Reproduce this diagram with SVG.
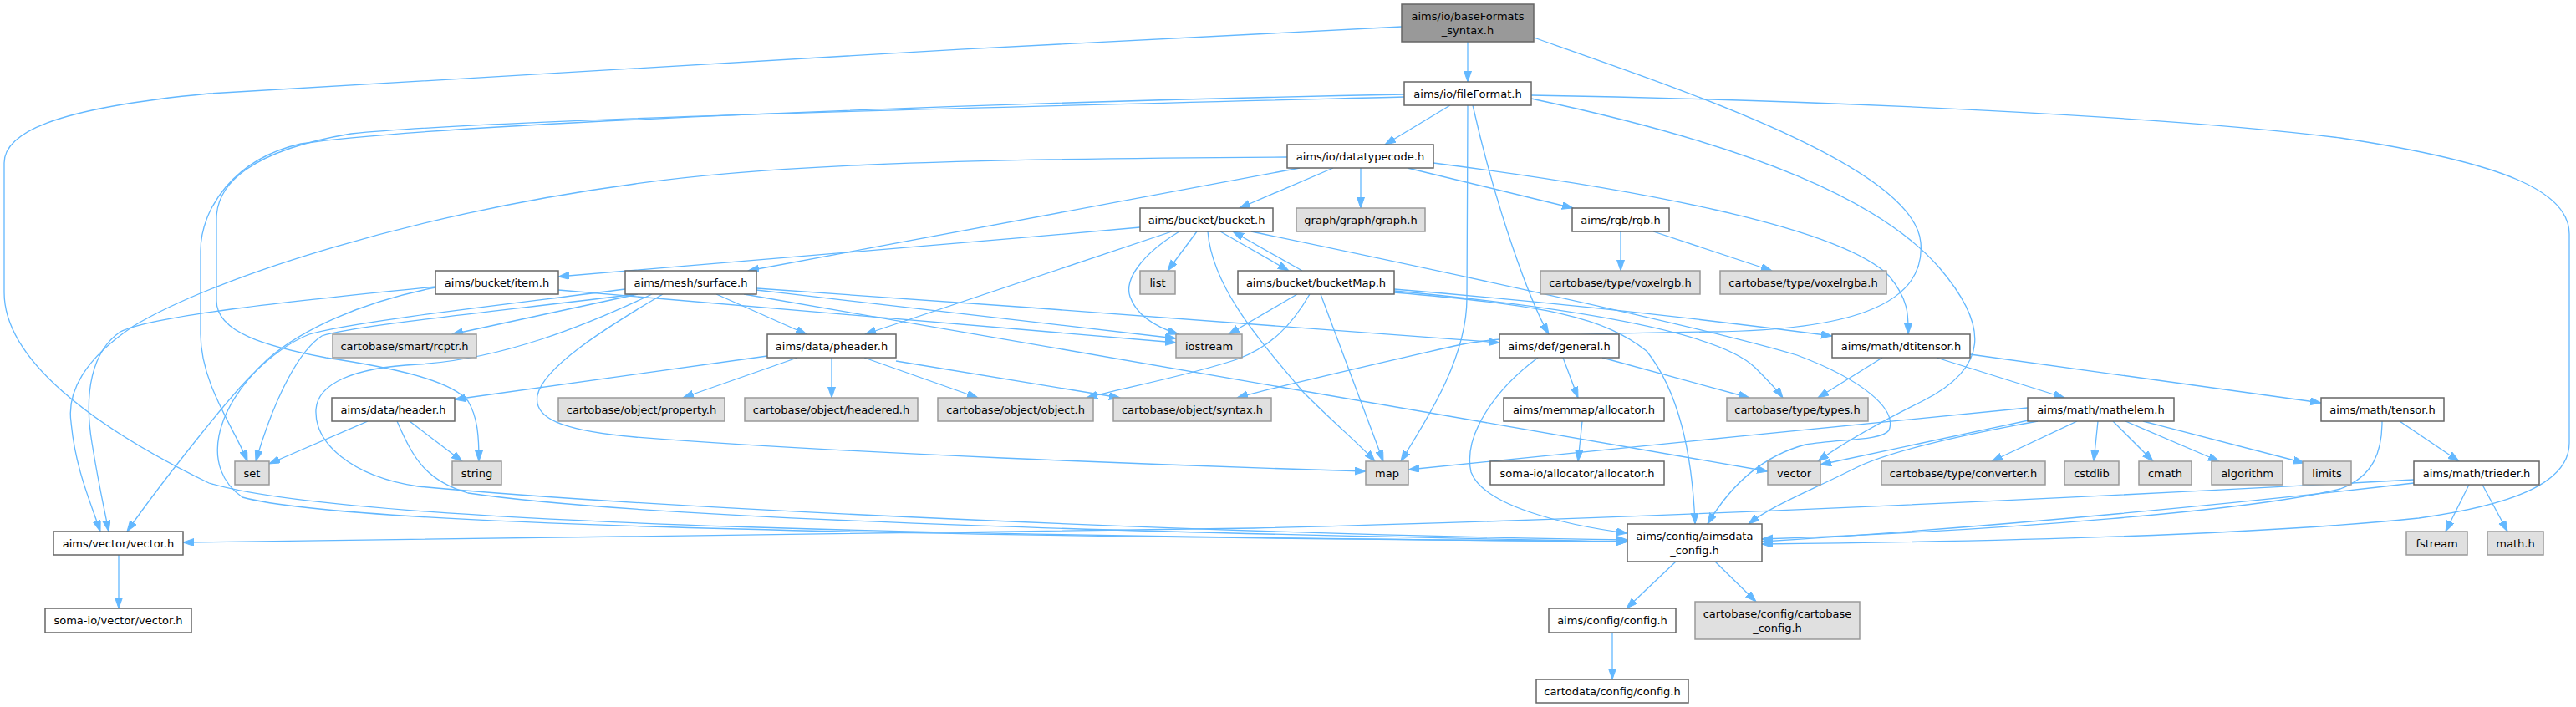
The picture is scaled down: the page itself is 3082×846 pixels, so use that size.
<svg xmlns="http://www.w3.org/2000/svg" width="3082" height="846" viewBox="0 0 3082 846">
<style>
.n rect{fill:#ffffff;stroke:#666666;stroke-width:1.5}
.g rect{fill:#e0e0e0;stroke:#999999;stroke-width:1.5}
.r rect{fill:#999999;stroke:#666666;stroke-width:1.5}
text{font-family:"DejaVu Sans","Liberation Sans",sans-serif;font-size:13px;fill:#000000;text-anchor:middle}
.e path{fill:none;stroke:#63b8ff;stroke-width:1.3;marker-end:url(#a)}
</style>
<defs>
<marker id="a" markerWidth="14" markerHeight="10" refX="13" refY="4.5" orient="auto" markerUnits="userSpaceOnUse"><path d="M0,0 L13,4.5 L0,9 z" fill="#63b8ff" stroke="#63b8ff" stroke-width="1"/></marker>
</defs>
<rect width="3082" height="846" fill="#ffffff"/>
<g id="edges" class="e">
<path d="M1756,50 L1756,98"/>
<path d="M1677,32 C1200,55 480,95 250,112 C60,130 5,160 5,195 L5,350 C5,430 110,510 250,578 C420,630 1200,642 1947,648"/>
<path d="M1835,45 C2020,110 2290,200 2298,290 C2305,370 2200,395 2050,397 C1900,399 1790,402 1740,414 C1640,437 1530,462 1480,476"/>
<path d="M1735,126 L1657,173"/>
<path d="M1680,113 C1200,122 520,148 360,172 C280,190 240,250 240,300 L240,400 C240,460 282,515 296,552"/>
<path d="M1680,116 C1200,128 600,142 420,160 C300,180 259,220 259,262 L259,360 C259,398 320,415 390,428 C470,440 540,455 560,480 C572,500 573,525 573,552"/>
<path d="M1756,126 C1756,200 1755,290 1755,357 C1755,430 1705,505 1676,552"/>
<path d="M1762,126 C1790,250 1830,360 1853,400"/>
<path d="M1832,114 C2200,120 2600,140 2800,165 C3000,195 3074,230 3074,280 L3074,530 C3074,580 3000,605 2894,620 C2700,640 2400,648 2108,651"/>
<path d="M1832,118 C2100,175 2250,240 2320,320 C2380,390 2380,440 2300,480 C2250,505 2205,530 2175,552"/>
<path d="M1540,188 C1100,190 900,200 760,220 C500,255 260,330 160,390 C100,430 80,470 85,505 C90,560 108,600 120,636"/>
<path d="M1555,201 L895,324"/>
<path d="M1595,201 L1483,249"/>
<path d="M1628,201 L1628,249"/>
<path d="M1684,201 L1882,249"/>
<path d="M1715,195 C1950,225 2200,270 2260,330 C2285,360 2283,380 2283,400"/>
<path d="M1364,272 C1100,296 800,319 668,331"/>
<path d="M1432,277 L1397,324"/>
<path d="M1411,277 C1365,305 1345,335 1352,355 C1360,378 1385,392 1410,400"/>
<path d="M1402,277 L1035,400"/>
<path d="M1445,277 C1450,340 1500,400 1560,470 C1600,510 1625,530 1645,552"/>
<path d="M1460,277 L1542,324"/>
<path d="M1558,324 L1475,277"/>
<path d="M1497,277 C1800,340 2050,395 2150,425 C2230,455 2270,490 2260,515 C2250,528 2200,525 2160,532 C2100,548 2065,590 2043,627"/>
<path d="M1552,352 L1470,400"/>
<path d="M1567,352 C1545,390 1520,415 1480,430 C1420,450 1340,465 1300,476"/>
<path d="M1580,352 L1655,552"/>
<path d="M1668,346 C1900,365 2100,390 2192,402"/>
<path d="M1668,348 C1900,370 2060,400 2100,440 C2115,455 2125,465 2133,476"/>
<path d="M1668,350 C1850,365 1920,380 1970,420 C2010,470 2025,550 2028,627"/>
<path d="M521,343 C350,360 180,378 144,397 C110,420 100,470 110,530 C118,580 125,610 130,636"/>
<path d="M521,344 C430,362 360,395 320,430 C255,490 240,560 290,595 C400,625 900,640 1947,648"/>
<path d="M668,347 C900,367 1200,392 1407,410"/>
<path d="M763,352 L541,400"/>
<path d="M748,346 C600,365 420,385 370,400 C320,420 280,470 240,520 C200,570 170,610 152,636"/>
<path d="M760,352 C600,372 420,390 385,402 C360,418 330,470 306,552"/>
<path d="M780,352 C700,390 600,430 500,436 C420,440 380,460 378,490 C376,530 420,570 500,582 C800,610 1500,640 1947,646"/>
<path d="M857,352 L965,400"/>
<path d="M905,347 C1100,370 1300,393 1407,405"/>
<path d="M905,345 C1200,365 1600,395 1794,410"/>
<path d="M890,352 L2115,564"/>
<path d="M793,352 C720,395 650,440 643,473 C638,500 670,515 760,523 C1000,542 1400,557 1634,564"/>
<path d="M918,426 L544,478"/>
<path d="M954,428 L817,476"/>
<path d="M995,428 L995,476"/>
<path d="M1034,428 L1170,476"/>
<path d="M1072,432 L1340,476"/>
<path d="M440,504 L322,555"/>
<path d="M490,504 L553,552"/>
<path d="M475,504 C495,550 510,575 560,590 C800,625 1500,640 1947,648"/>
<path d="M1917,428 L2093,476"/>
<path d="M1870,428 L1888,476"/>
<path d="M1840,428 C1790,465 1750,520 1760,565 C1775,605 1870,628 1947,638"/>
<path d="M1893,504 L1888,552"/>
<path d="M1939,277 L1939,324"/>
<path d="M1978,277 L2120,324"/>
<path d="M2252,428 L2175,476"/>
<path d="M2317,428 L2470,476"/>
<path d="M2357,424 L2777,482"/>
<path d="M2426,488 C2200,510 1900,540 1685,562"/>
<path d="M2427,503 L2178,556"/>
<path d="M2438,504 C2350,520 2260,540 2220,560 C2160,590 2120,605 2092,627"/>
<path d="M2485,504 L2383,552"/>
<path d="M2510,504 L2505,552"/>
<path d="M2528,504 L2576,552"/>
<path d="M2543,504 L2655,552"/>
<path d="M2564,504 L2757,554"/>
<path d="M2871,504 L2942,552"/>
<path d="M2850,504 C2850,540 2840,570 2800,585 C2700,610 2400,635 2108,645"/>
<path d="M2954,580 L2926,636"/>
<path d="M2970,580 L3000,636"/>
<path d="M2888,574 C2500,595 2000,620 1500,632 C1000,642 600,647 219,649"/>
<path d="M2888,578 C2700,600 2400,630 2108,648"/>
<path d="M2005,672 L1946,728"/>
<path d="M2052,672 L2101,720"/>
<path d="M1929,757 L1929,813"/>
<path d="M142,664 L142,728"/>
</g>
<g id="n_B" class="r"><rect x="1677" y="5" width="158" height="45"/><text x="1756" y="23.5">aims/io/baseFormats</text><text x="1756" y="40.5">_syntax.h</text></g>
<g id="n_F" class="n"><rect x="1680" y="98" width="152" height="28"/><text x="1756" y="116.5">aims/io/fileFormat.h</text></g>
<g id="n_D" class="n"><rect x="1540" y="173" width="175" height="28"/><text x="1627.5" y="191.5">aims/io/datatypecode.h</text></g>
<g id="n_BK" class="n"><rect x="1364" y="249" width="159" height="28"/><text x="1443.5" y="267.5">aims/bucket/bucket.h</text></g>
<g id="n_graph" class="g"><rect x="1551" y="249" width="154" height="28"/><text x="1628" y="267.5">graph/graph/graph.h</text></g>
<g id="n_rgb" class="n"><rect x="1881" y="249" width="116" height="28"/><text x="1939" y="267.5">aims/rgb/rgb.h</text></g>
<g id="n_I" class="n"><rect x="521" y="324" width="147" height="28"/><text x="594.5" y="342.5">aims/bucket/item.h</text></g>
<g id="n_S" class="n"><rect x="748" y="324" width="157" height="28"/><text x="826.5" y="342.5">aims/mesh/surface.h</text></g>
<g id="n_list" class="g"><rect x="1364" y="324" width="42" height="28"/><text x="1385" y="342.5">list</text></g>
<g id="n_BM" class="n"><rect x="1481" y="324" width="187" height="28"/><text x="1574.5" y="342.5">aims/bucket/bucketMap.h</text></g>
<g id="n_vrgb" class="g"><rect x="1843" y="324" width="191" height="28"/><text x="1938.5" y="342.5">cartobase/type/voxelrgb.h</text></g>
<g id="n_vrgba" class="g"><rect x="2058" y="324" width="199" height="28"/><text x="2157.5" y="342.5">cartobase/type/voxelrgba.h</text></g>
<g id="n_rcptr" class="g"><rect x="398" y="400" width="172" height="28"/><text x="484" y="418.5">cartobase/smart/rcptr.h</text></g>
<g id="n_P" class="n"><rect x="918" y="400" width="154" height="28"/><text x="995" y="418.5">aims/data/pheader.h</text></g>
<g id="n_ios" class="g"><rect x="1407" y="400" width="79" height="28"/><text x="1446.5" y="418.5">iostream</text></g>
<g id="n_G" class="n"><rect x="1794" y="400" width="143" height="28"/><text x="1865.5" y="418.5">aims/def/general.h</text></g>
<g id="n_DT" class="n"><rect x="2192" y="400" width="165" height="28"/><text x="2274.5" y="418.5">aims/math/dtitensor.h</text></g>
<g id="n_H" class="n"><rect x="397" y="476" width="147" height="28"/><text x="470.5" y="494.5">aims/data/header.h</text></g>
<g id="n_prop" class="g"><rect x="668" y="476" width="199" height="28"/><text x="767.5" y="494.5">cartobase/object/property.h</text></g>
<g id="n_hdr" class="g"><rect x="891" y="476" width="207" height="28"/><text x="994.5" y="494.5">cartobase/object/headered.h</text></g>
<g id="n_obj" class="g"><rect x="1122" y="476" width="186" height="28"/><text x="1215" y="494.5">cartobase/object/object.h</text></g>
<g id="n_syn" class="g"><rect x="1332" y="476" width="189" height="28"/><text x="1426.5" y="494.5">cartobase/object/syntax.h</text></g>
<g id="n_mem" class="n"><rect x="1799" y="476" width="192" height="28"/><text x="1895" y="494.5">aims/memmap/allocator.h</text></g>
<g id="n_types" class="g"><rect x="2066" y="476" width="169" height="28"/><text x="2150.5" y="494.5">cartobase/type/types.h</text></g>
<g id="n_ME" class="n"><rect x="2426" y="476" width="175" height="28"/><text x="2513.5" y="494.5">aims/math/mathelem.h</text></g>
<g id="n_T" class="n"><rect x="2777" y="476" width="147" height="28"/><text x="2850.5" y="494.5">aims/math/tensor.h</text></g>
<g id="n_set" class="g"><rect x="281" y="552" width="41" height="28"/><text x="301.5" y="570.5">set</text></g>
<g id="n_string" class="g"><rect x="541" y="552" width="59" height="28"/><text x="570.5" y="570.5">string</text></g>
<g id="n_map" class="g"><rect x="1634" y="552" width="51" height="28"/><text x="1659.5" y="570.5">map</text></g>
<g id="n_salloc" class="n"><rect x="1783" y="552" width="208" height="28"/><text x="1887" y="570.5">soma-io/allocator/allocator.h</text></g>
<g id="n_vector" class="g"><rect x="2115" y="552" width="63" height="28"/><text x="2146.5" y="570.5">vector</text></g>
<g id="n_conv" class="g"><rect x="2251" y="552" width="196" height="28"/><text x="2349" y="570.5">cartobase/type/converter.h</text></g>
<g id="n_cstdlib" class="g"><rect x="2470" y="552" width="65" height="28"/><text x="2502.5" y="570.5">cstdlib</text></g>
<g id="n_cmath" class="g"><rect x="2559" y="552" width="63" height="28"/><text x="2590.5" y="570.5">cmath</text></g>
<g id="n_algo" class="g"><rect x="2646" y="552" width="85" height="28"/><text x="2688.5" y="570.5">algorithm</text></g>
<g id="n_limits" class="g"><rect x="2755" y="552" width="58" height="28"/><text x="2784" y="570.5">limits</text></g>
<g id="n_TR" class="n"><rect x="2888" y="552" width="150" height="28"/><text x="2963" y="570.5">aims/math/trieder.h</text></g>
<g id="n_VV" class="n"><rect x="64" y="636" width="155" height="28"/><text x="141.5" y="654.5">aims/vector/vector.h</text></g>
<g id="n_AC" class="n"><rect x="1947" y="627" width="161" height="45"/><text x="2027.5" y="645.5">aims/config/aimsdata</text><text x="2027.5" y="662.5">_config.h</text></g>
<g id="n_fstream" class="g"><rect x="2879" y="636" width="73" height="28"/><text x="2915.5" y="654.5">fstream</text></g>
<g id="n_math" class="g"><rect x="2976" y="636" width="67" height="28"/><text x="3009.5" y="654.5">math.h</text></g>
<g id="n_SV" class="n"><rect x="54" y="728" width="175" height="29"/><text x="141.5" y="747">soma-io/vector/vector.h</text></g>
<g id="n_config" class="n"><rect x="1853" y="728" width="152" height="29"/><text x="1929" y="747">aims/config/config.h</text></g>
<g id="n_cbc" class="g"><rect x="2028" y="720" width="197" height="45"/><text x="2126.5" y="738.5">cartobase/config/cartobase</text><text x="2126.5" y="755.5">_config.h</text></g>
<g id="n_cdata" class="n"><rect x="1838" y="813" width="182" height="28"/><text x="1929" y="831.5">cartodata/config/config.h</text></g>
</svg>
